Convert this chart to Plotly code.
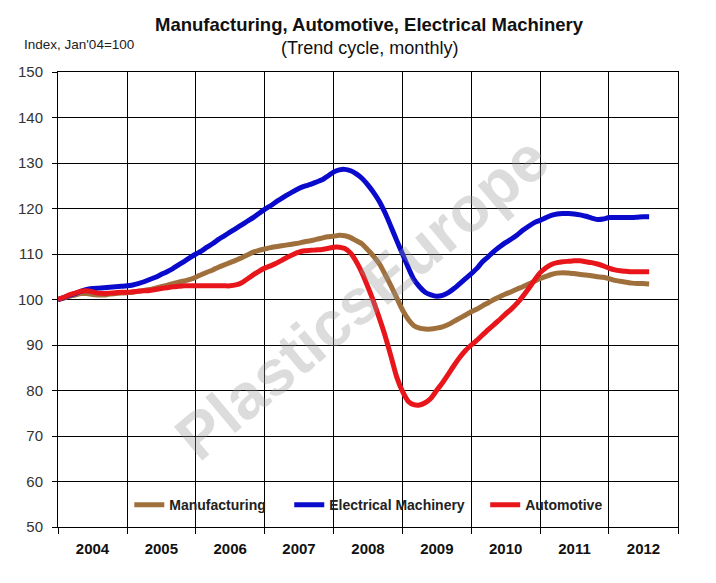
import plotly.graph_objects as go
import pandas as pd

# ---- Data (monthly, Jan 2004 .. Aug 2012), Index Jan'04 = 100 ----
start_month = "2004-01-01"

manufacturing = [
    100.0, 100.3, 100.7, 101.0, 101.3, 101.3, 101.1, 101.0, 101.0, 101.2, 101.3, 101.4,   # 2004
    101.5, 101.6, 101.8, 102.0, 102.2, 102.5, 102.8, 103.1, 103.5, 103.8, 104.1, 104.4,   # 2005
    104.9, 105.5, 106.0, 106.5, 107.1, 107.6, 108.1, 108.6, 109.2, 109.8, 110.4, 110.8,   # 2006
    111.1, 111.4, 111.6, 111.8, 112.0, 112.2, 112.4, 112.7, 112.9, 113.2, 113.5, 113.8,   # 2007
    113.9, 114.1, 114.0, 113.6, 112.9, 112.2, 110.9, 109.5, 107.8, 105.5, 103.0, 100.4,   # 2008
    97.7, 95.6, 94.3, 93.7, 93.5, 93.5, 93.7, 94.0, 94.5, 95.2, 95.9, 96.6,               # 2009
    97.3, 97.9, 98.6, 99.3, 100.0, 100.6, 101.2, 101.7, 102.3, 102.8, 103.4, 104.0,       # 2010
    104.6, 105.1, 105.5, 105.8, 105.9, 105.8, 105.7, 105.5, 105.4, 105.2, 105.0, 104.9,   # 2011
    104.6, 104.2, 104.0, 103.8, 103.6, 103.5, 103.5, 103.4,                               # 2012
]

electrical = [
    100.0, 100.4, 100.9, 101.3, 101.8, 102.2, 102.4, 102.5, 102.6, 102.7, 102.8, 102.9,   # 2004
    103.0, 103.2, 103.5, 103.9, 104.4, 104.9, 105.5, 106.1, 106.8, 107.6, 108.4, 109.2,   # 2005
    110.0, 110.7, 111.5, 112.3, 113.2, 114.0, 114.8, 115.6, 116.4, 117.2, 118.0, 118.9,   # 2006
    119.8, 120.6, 121.4, 122.2, 123.0, 123.7, 124.4, 124.9, 125.3, 125.8, 126.3, 127.1,   # 2007
    128.0, 128.5, 128.6, 128.3, 127.6, 126.6, 125.2, 123.5, 121.5, 119.0, 116.0, 113.0,   # 2008
    110.0, 107.0, 104.5, 102.8, 101.6, 101.0, 100.7, 100.9, 101.5, 102.4, 103.5, 104.6,   # 2009
    105.7, 106.9, 108.3, 109.4, 110.6, 111.6, 112.5, 113.3, 114.2, 115.2, 116.1, 116.9,   # 2010
    117.4, 118.0, 118.5, 118.8, 118.9, 118.9, 118.8, 118.6, 118.3, 117.9, 117.6, 117.7,   # 2011
    118.0, 118.0, 118.0, 118.0, 118.0, 118.1, 118.2, 118.2,                               # 2012
]

automotive = [
    100.0, 100.5, 101.0, 101.4, 101.8, 101.9, 101.7, 101.4, 101.3, 101.4, 101.5, 101.6,   # 2004
    101.6, 101.7, 101.8, 101.9, 102.0, 102.2, 102.4, 102.6, 102.8, 102.9, 103.0, 103.0,   # 2005
    103.0, 103.0, 103.0, 103.0, 103.0, 103.0, 103.0, 103.2, 103.7, 104.5, 105.4, 106.2,   # 2006
    106.9, 107.4, 107.9, 108.6, 109.3, 109.9, 110.4, 110.7, 110.8, 110.9, 111.0, 111.2,   # 2007
    111.5, 111.5, 111.2, 110.2, 108.3, 105.8, 102.8, 99.5, 95.8, 92.0, 87.5, 83.0,        # 2008
    79.8, 77.6, 76.9, 76.8, 77.3, 78.3, 80.0, 81.7, 83.6, 85.5, 87.3, 88.8,               # 2009
    90.0, 91.1, 92.2, 93.4, 94.5, 95.6, 96.8, 97.9, 99.2, 100.7, 102.4, 104.2,            # 2010
    105.9, 107.0, 107.7, 108.1, 108.3, 108.4, 108.5, 108.5, 108.3, 108.1, 107.8, 107.4,   # 2011
    106.9, 106.5, 106.3, 106.2, 106.1, 106.1, 106.1, 106.1,                               # 2012
]

years = [2004, 2005, 2006, 2007, 2008, 2009, 2010, 2011, 2012]
y_ticks = [50, 60, 70, 80, 90, 100, 110, 120, 130, 140, 150]

dates = pd.date_range(start_month, periods=len(manufacturing), freq="MS")

series = [
    ("Manufacturing", manufacturing, "#A0703C", "legend", 0.115),
    ("Electrical Machinery", electrical, "#0A0ACC", "legend2", 0.373),
    ("Automotive", automotive, "#E8161B", "legend3", 0.689),
]

fig = go.Figure()
for name, vals, col, leg, _ in series:
    fig.add_trace(go.Scatter(
        x=dates, y=vals, name=name, mode="lines", legend=leg,
        line=dict(color=col, width=5, shape="spline", smoothing=0.6),
    ))

label_pos = [f"{y}-07-02" for y in years]
grid_pos = [f"{y}-01-01" for y in years + [years[-1] + 1]]

legend_common = dict(
    orientation="h", y=0.048, xanchor="left", yanchor="middle",
    bgcolor="rgba(0,0,0,0)", itemwidth=30,
    font=dict(size=14, color="#222", family="Liberation Sans, Arial", weight="bold"),
)
layout_legends = {}
for name, vals, col, leg, lx in series:
    layout_legends[leg] = dict(legend_common, x=lx)

fig.update_layout(
    width=716, height=583,
    margin=dict(l=58, r=38, t=72, b=56),
    paper_bgcolor="white", plot_bgcolor="white",
    font=dict(family="Liberation Sans, Arial, sans-serif", color="#222"),
    showlegend=True,
    xaxis=dict(
        type="date", range=[grid_pos[0], grid_pos[-1]],
        tickmode="array", tickvals=label_pos, ticktext=[str(y) for y in years],
        ticks="", showgrid=False, zeroline=False,
        tickfont=dict(size=15, color="#111", weight="bold"), ticklabelstandoff=8,
        showline=True, linecolor="black", linewidth=1, mirror=True,
        minor=dict(tickmode="array", tickvals=grid_pos, ticks="outside", ticklen=6,
                   tickcolor="black", tickwidth=1, showgrid=True, gridcolor="black", gridwidth=1),
    ),
    yaxis=dict(
        range=[50, 150], tickmode="array", tickvals=y_ticks,
        ticks="outside", ticklen=5, tickcolor="black",
        showgrid=True, gridcolor="black", gridwidth=1, zeroline=False,
        showline=True, linecolor="black", linewidth=1, mirror=True,
        tickfont=dict(size=15, color="#333"), ticklabelstandoff=6,
    ),
    **layout_legends,
)

fig.add_annotation(
    text="Manufacturing, Automotive, Electrical Machinery",
    xref="paper", yref="paper", x=0.502, y=(527 - 25) / 455,
    xanchor="center", yanchor="middle", showarrow=False,
    font=dict(size=18.5, color="#111", weight="bold"),
)
fig.add_annotation(
    text="(Trend cycle, monthly)",
    xref="paper", yref="paper", x=0.502, y=(527 - 48) / 455,
    xanchor="center", yanchor="middle", showarrow=False,
    font=dict(size=18, color="#111"),
)
fig.add_annotation(
    text="Index, Jan'04=100",
    xref="paper", yref="paper", x=(22 - 58) / 620, y=(527 - 44) / 455,
    xanchor="left", yanchor="middle", showarrow=False,
    font=dict(size=13.5, color="#222"),
)
fig.add_annotation(
    text="PlasticsEurope",
    xref="paper", yref="paper", x=0.49, y=0.503,
    xanchor="center", yanchor="middle", showarrow=False, textangle=-40,
    font=dict(size=64, color="rgba(150,150,150,0.33)", family="Liberation Sans, Arial",
              weight="bold"),
)

fig.write_html("out.html")
